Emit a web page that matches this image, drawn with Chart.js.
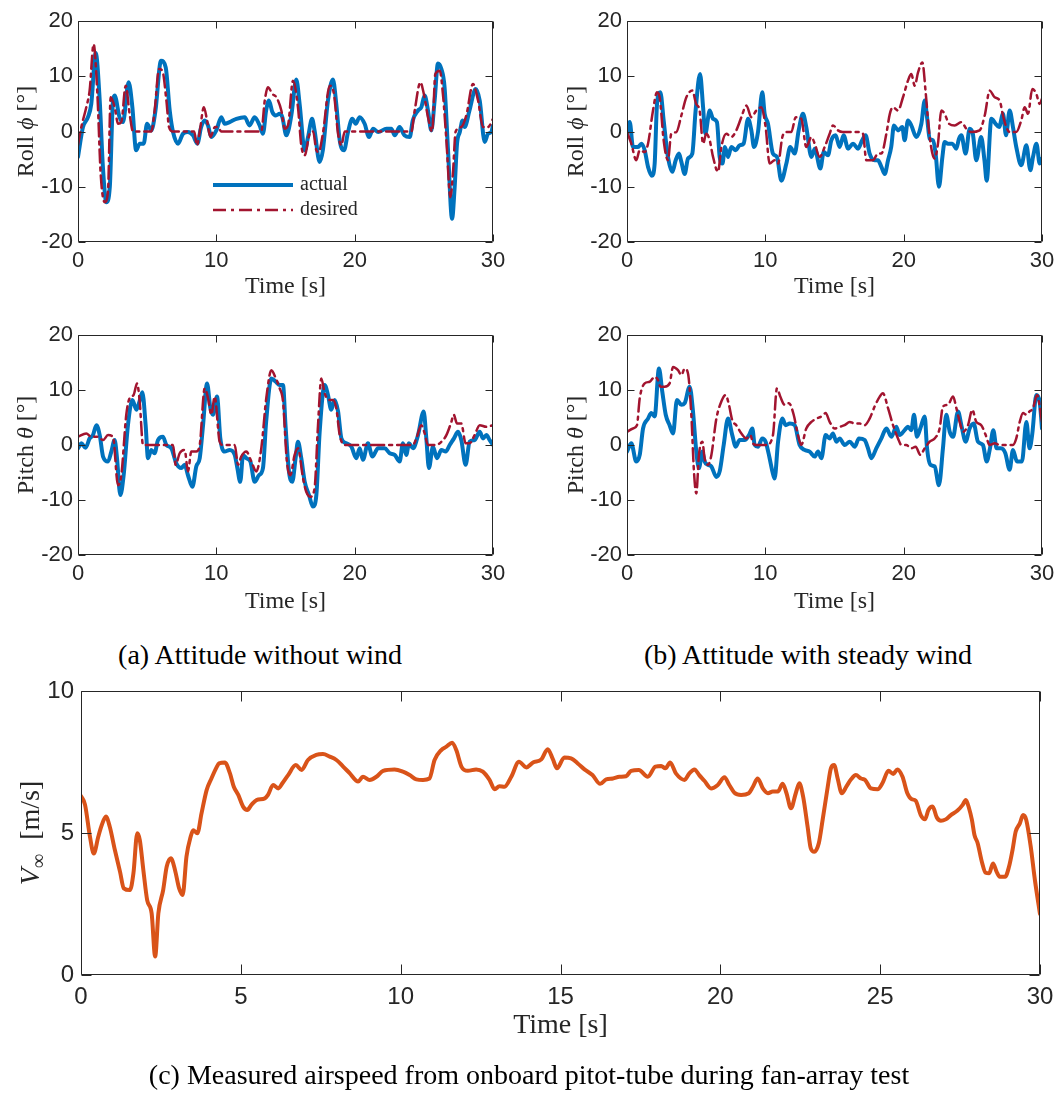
<!DOCTYPE html>
<html><head><meta charset="utf-8">
<script src="https://cdn.jsdelivr.net/npm/chart.js@4.4.1/dist/chart.umd.min.js"></script>
<style>
html,body{margin:0;padding:0;background:#fff;}
body{width:1054px;height:1097px;position:relative;overflow:hidden;}
.pane{position:absolute;}
.pane canvas{display:block;}
.cap{position:absolute;font-family:'Liberation Serif','Times New Roman',serif;font-size:28px;color:#000;white-space:nowrap;transform:translate(-50%,-50%);line-height:1;}
</style></head><body>
<div class="pane" style="left:0;top:0"><canvas id="cA" width="520" height="310"></canvas></div>
<div class="pane" style="left:527px;top:0"><canvas id="cB" width="527" height="310"></canvas></div>
<div class="pane" style="left:0;top:315px"><canvas id="cC" width="520" height="310"></canvas></div>
<div class="pane" style="left:527px;top:315px"><canvas id="cD" width="527" height="310"></canvas></div>
<div class="pane" style="left:0;top:680px"><canvas id="cE" width="1054" height="380"></canvas></div>
<div class="cap" style="left:260px;top:655px">(a) Attitude without wind</div>
<div class="cap" style="left:808px;top:655px">(b) Attitude with steady wind</div>
<div class="cap" style="left:529px;top:1075px">(c) Measured airspeed from onboard pitot-tube during fan-array test</div>
<script>
// ---------------- DATA ([time s, value]) ----------------
const rollCalmActual = [[0,-4.6],[0.36,0.8],[0.72,2.6],[0.96,5],[1.28,14.2],[1.57,5.6],[1.8,-6.4],[2.05,-12.8],[2.3,-10],[2.53,5.6],[2.65,6.5],[3.0,2.6],[3.25,1.7],[3.66,8.9],[3.93,4.4],[4.2,-3.4],[4.46,-2.2],[4.75,-2.2],[4.99,1.4],[5.3,0.2],[5.6,3.8],[6.0,12.8],[6.34,11.6],[6.63,3.8],[6.87,-0.1],[7.23,-2.2],[7.59,-0.4],[7.95,-0.1],[8.31,-0.7],[8.63,-2.2],[8.9,0.8],[9.16,2],[9.4,1.1],[9.64,-1],[10.0,0.2],[10.36,2.6],[10.6,1.4],[10.96,1.7],[11.45,2.3],[12.05,2.6],[12.4,1.1],[12.77,2.6],[13.13,1.1],[13.37,-0.4],[13.6,3.8],[13.8,5.6],[14.05,3.5],[14.3,2.9],[14.58,3.2],[14.77,2.6],[15.06,-0.7],[15.42,2.9],[15.78,9.4],[16.02,5],[16.39,-3.4],[16.63,-1],[16.92,2.3],[17.1,0.2],[17.47,-5.5],[17.7,-3.4],[18.07,5.6],[18.43,9.4],[18.67,5],[18.92,-1.6],[19.23,-3.4],[19.52,-0.1],[19.83,2.3],[20.07,1.4],[20.36,2.6],[20.72,1.4],[21.04,-1],[21.33,0.5],[21.7,-0.1],[22.3,0.5],[22.65,0.5],[22.9,-0.7],[23.25,0.8],[23.6,-0.7],[23.98,-1],[24.2,2],[24.58,3.8],[24.82,4.4],[25.06,6.5],[25.3,3.8],[25.54,0.2],[25.78,5.6],[26.02,12.3],[26.27,11.3],[26.5,8],[26.75,-3.4],[27.04,-15.8],[27.23,-10],[27.4,-2.2],[27.6,-0.1],[27.8,2],[27.95,0.8],[28.3,3.8],[28.75,7.7],[29.04,5.6],[29.4,-1.9],[29.64,-0.4],[29.88,-0.1],[30,1.1]];
const rollCalmDesired = [[0,-2.5],[0.24,0.8],[0.6,4.4],[0.84,7.4],[1.13,15.8],[1.4,6.8],[1.64,-7.7],[1.93,-12.8],[2.17,-10.7],[2.36,6.2],[2.65,4.4],[2.9,1.4],[3.13,1.7],[3.45,8.3],[3.73,3.2],[3.98,0],[5.3,0],[5.54,3.8],[5.86,11.3],[6.1,11],[6.39,5.6],[6.58,0.8],[6.87,0],[8.4,0],[8.6,-2.5],[8.8,0],[9.1,4.4],[9.33,2],[9.57,-1],[9.9,0.8],[10.1,0.8],[10.36,0],[13.25,0],[13.5,5.6],[13.73,8],[14.05,6.8],[14.34,6.2],[14.7,3.8],[14.94,0.5],[15.18,1.1],[15.54,9.2],[15.9,4.4],[16.14,-2.5],[16.39,-4.3],[16.75,-0.4],[17.0,0],[17.23,-3.4],[17.4,-3.7],[17.7,-0.4],[18.2,8.3],[18.5,6.8],[18.8,-0.4],[19.04,-2.5],[19.28,0],[24.1,0],[24.34,3.8],[24.75,8.9],[25.0,6.8],[25.3,2.6],[25.6,0],[25.83,10.4],[26.15,11],[26.4,6.2],[26.63,-1.6],[26.92,-11.9],[27.1,-7.7],[27.3,0],[27.7,0.8],[28.07,2.9],[28.55,8.6],[28.92,5.6],[29.28,0.8],[29.64,0.8],[30,2.3]];
const rollWindActual = [[0,-0.4],[0.2,1.7],[0.43,-2.8],[0.8,-2.8],[1.04,-2.2],[1.28,-3.4],[1.52,-6.4],[1.8,-8],[2.0,-5.8],[2.17,5],[2.41,7.1],[2.65,2],[2.96,-4.6],[3.28,-7.3],[3.52,-5.2],[3.76,-4],[3.93,-5.5],[4.17,-7.7],[4.41,-4.9],[4.72,-4],[4.96,3.8],[5.28,10.4],[5.5,4.4],[5.66,-0.4],[5.98,3.8],[6.22,2.3],[6.5,1.7],[6.7,-4.6],[6.9,-5.8],[7.08,-2.8],[7.3,-4.6],[7.54,-2.8],[7.86,-3.4],[8.14,-2.5],[8.43,-2.2],[8.75,2.3],[8.99,0.2],[9.18,-2.8],[9.47,-0.1],[9.78,7.1],[9.95,3.2],[10.19,1.4],[10.55,-4],[10.84,-4.6],[11.16,-8.9],[11.52,-5.8],[11.8,-2.8],[12.12,-4],[12.41,0.2],[12.72,3.2],[12.96,0.8],[13.33,-4.6],[13.57,-3.1],[13.98,-6.7],[14.22,-3.7],[14.53,-4.3],[14.77,-1.6],[15.08,-0.7],[15.37,-2.8],[15.66,-0.7],[15.98,-3.1],[16.34,-2.2],[16.7,-3.1],[17.0,-1.6],[17.25,-0.7],[17.54,-4],[17.9,-5.2],[18.14,-5.2],[18.39,-6.4],[18.63,-7.7],[18.87,-5.2],[19.1,-2.8],[19.3,1.1],[19.59,0.2],[19.9,0.8],[20.07,-1.6],[20.31,2],[20.55,1.1],[20.92,-1],[21.28,1.4],[21.52,5.6],[21.69,2.6],[21.88,-1.3],[22.12,-1.6],[22.31,-4],[22.55,-10],[22.8,-4.6],[22.96,-1.9],[23.2,-2.2],[23.52,-2.2],[23.8,-3.1],[24.0,-1.3],[24.17,-0.7],[24.48,-4],[24.77,0.5],[25.0,-0.4],[25.25,-5.2],[25.6,-1],[25.84,-5.2],[26.0,-8.9],[26.34,2.3],[26.65,1.4],[26.9,0.8],[27.18,3.2],[27.4,-0.7],[27.66,3.8],[27.9,0.8],[28.14,-2.8],[28.5,-6.1],[28.87,-2.5],[29.16,-7],[29.35,-4.6],[29.6,-2.2],[29.83,-5.8],[30,-4.9]];
const rollWindDesired = [[0,-0.1],[0.31,-2.2],[0.67,-5.2],[0.92,-3.4],[1.28,-3.7],[1.52,-2.2],[1.88,3.8],[2.17,7.1],[2.36,6.2],[2.65,-1.6],[2.96,-5.2],[3.2,-0.4],[3.57,-0.1],[3.93,2.9],[4.29,6.2],[4.72,7.4],[5.0,5],[5.25,3.8],[5.5,-2.2],[5.73,-0.4],[5.98,-1.6],[6.22,-4.6],[6.58,-7.3],[6.82,-2.8],[7.18,-0.4],[7.54,-1],[7.9,0.2],[8.27,2.6],[8.63,4.7],[8.99,2.6],[9.35,3.8],[9.71,4.4],[10.02,0.8],[10.31,-5.8],[10.67,-5.2],[10.92,-5.8],[11.23,-1],[11.52,-0.1],[11.88,-0.1],[12.2,2.6],[12.6,2.3],[12.96,-2.8],[13.33,-1],[13.57,-2.2],[13.93,-4.6],[14.29,-2.8],[14.65,-0.4],[14.89,1.1],[15.25,0.2],[15.6,-0.1],[16.8,-0.1],[17.06,-0.4],[17.3,-5.2],[17.78,-5.2],[18.14,-4],[18.39,-4],[18.75,-0.4],[19.0,3.2],[19.23,4.4],[19.59,3.8],[19.95,6.2],[20.31,9.2],[20.55,10.4],[20.8,8.3],[21.04,10.7],[21.35,12.5],[21.6,6.8],[21.88,-1],[22.24,-4.9],[22.48,-2.2],[22.72,3.8],[22.96,3.2],[23.28,1.4],[23.69,1.1],[24.17,1.7],[24.53,0.5],[24.89,-0.1],[25.49,0.2],[25.86,2.9],[26.22,7.4],[26.58,6.2],[26.94,5.6],[27.18,2.9],[27.42,0.8],[27.66,-0.1],[28.14,-0.1],[28.5,2],[28.75,4.4],[28.99,3.2],[29.3,7.7],[29.59,6.8],[29.83,5],[30,5.9]];
const pitchCalmActual = [[0,-0.6],[0.24,0.3],[0.55,-0.5],[0.84,1.2],[1.08,1.8],[1.33,3.6],[1.57,1.8],[1.81,-2.1],[2.17,-3],[2.41,-1.2],[2.65,0.9],[2.82,-2.4],[3.06,-9.1],[3.3,-5.5],[3.61,3.6],[3.93,8.2],[4.22,6.4],[4.41,7.6],[4.65,9.6],[4.89,3.6],[5.06,-2.4],[5.3,-0.9],[5.54,-1.5],[5.78,0.9],[6.14,1.5],[6.39,0],[6.75,-0.6],[7.1,-3.3],[7.47,-4.2],[7.71,-3.6],[7.95,-5.5],[8.27,-7.6],[8.55,-3.9],[8.8,-2.4],[9.04,3.6],[9.33,11.2],[9.57,6.7],[9.76,5.5],[10.05,8.8],[10.29,1.2],[10.6,-1.2],[10.96,-0.9],[11.33,-1.8],[11.52,-4.2],[11.73,-6.7],[11.93,-1.8],[12.17,-2.4],[12.46,-3],[12.77,-6.7],[13.08,-5.5],[13.37,-4.2],[13.6,4.2],[13.98,12.1],[14.3,11.5],[14.58,10.9],[14.82,10.9],[15.0,3.6],[15.25,-4.8],[15.49,-6.7],[15.73,-2.4],[15.9,0.6],[16.14,-2.4],[16.39,-6.7],[16.7,-9.1],[16.99,-11.2],[17.23,-9.1],[17.47,2.4],[17.83,10.9],[18.07,9.1],[18.31,6.4],[18.55,8.2],[18.8,6.1],[19.04,1.2],[19.4,0.3],[19.76,-0.3],[20.12,-2.4],[20.36,-0.6],[20.6,-2.7],[20.96,0.3],[21.28,-2.1],[21.69,-0.6],[22.17,-0.6],[22.53,-1.5],[22.89,-1.8],[23.25,-3],[23.49,0.3],[23.73,-1.8],[23.93,0.3],[24.22,-0.6],[24.58,1.8],[24.99,6.1],[25.18,1.2],[25.37,-4.2],[25.66,-0.3],[25.95,-2.4],[26.27,-0.9],[26.58,-1.2],[26.87,0],[27.18,1.2],[27.47,2.4],[27.71,0.9],[28.02,-3.6],[28.31,0.6],[28.67,0.9],[29.04,2.4],[29.28,1.2],[29.52,1.8],[29.76,0.9],[30,0]];
const pitchCalmDesired = [[0,1.5],[0.6,2.1],[0.96,1.5],[1.45,1.5],[1.81,0.9],[2.17,1.8],[2.53,1.5],[2.89,-7.3],[3.13,-5.5],[3.49,5.5],[3.73,8.5],[4.02,9.1],[4.27,11.2],[4.46,7.9],[4.7,0],[6.87,0],[7.06,-3.6],[7.35,-1.5],[7.71,-0.9],[7.95,-4.8],[8.19,-1.2],[8.55,-1.2],[8.8,0],[9.16,10.3],[9.4,8.5],[9.64,5.5],[9.88,8.8],[10.24,0.6],[10.48,0],[11.33,0],[11.57,-3.6],[11.8,-2.1],[12.17,-1.2],[12.53,-3],[12.89,-4.8],[13.25,-0.6],[13.61,8.5],[13.98,13.6],[14.3,12.1],[14.58,10.3],[14.82,7.9],[15.1,-3],[15.35,-5.5],[15.66,-1.8],[15.9,-0.6],[16.27,-6.1],[16.5,-8.5],[16.8,-9.4],[17.1,-7.9],[17.35,3.6],[17.59,12.1],[17.83,9.4],[18.14,8.2],[18.43,8.2],[18.67,6.7],[18.92,1.8],[19.28,0],[24.2,0],[24.46,1.2],[24.82,3.6],[25.06,2.1],[25.3,0],[25.9,0],[26.27,0.6],[26.63,1.8],[26.99,4.2],[27.16,5.5],[27.4,3.9],[27.71,3.9],[28.02,0.3],[28.31,0.3],[28.67,1.8],[29.04,3.6],[29.52,3.3],[30,3.6]];
const pitchWindActual = [[0,-1.2],[0.31,0.3],[0.67,-3],[0.92,-1.8],[1.16,3],[1.52,4.8],[1.76,5.8],[2.0,5.2],[2.31,13.9],[2.55,9.7],[2.8,5.5],[3.08,3.6],[3.33,2.1],[3.61,8.2],[3.93,7.3],[4.17,7.6],[4.53,10.6],[4.77,6.1],[5.01,-1.2],[5.2,-4.2],[5.45,-1.2],[5.61,-3],[5.86,-3.6],[6.1,-3.9],[6.46,-5.8],[6.7,-4.8],[6.99,0],[7.3,4.8],[7.61,1.8],[7.86,-0.3],[8.14,0.9],[8.51,0.9],[8.82,1.8],[9.06,3],[9.23,0],[9.47,-0.3],[9.78,1.2],[10.02,0.6],[10.31,-2.4],[10.51,-4.8],[10.67,-6.1],[10.92,0.6],[11.23,4.8],[11.47,3.6],[11.76,3.9],[12.12,3.6],[12.48,0],[12.84,-0.9],[13.2,-1.2],[13.57,-2.1],[13.81,-1.2],[14.05,-2.4],[14.36,1.8],[14.65,1.2],[14.89,2.1],[15.13,0.6],[15.37,1.2],[15.73,0],[16.1,0.6],[16.46,-0.3],[16.77,1.2],[17.18,0.9],[17.42,-0.6],[17.66,-2.4],[18.02,-0.6],[18.39,1.2],[18.75,3],[19.11,1.5],[19.47,3.3],[19.71,1.8],[20.07,2.7],[20.31,3.3],[20.55,2.7],[20.75,5.5],[20.96,1.5],[21.2,3],[21.52,5.2],[21.69,-0.6],[21.93,-3.6],[22.24,-3.9],[22.55,-7.3],[22.84,-0.6],[23.08,5.5],[23.33,2.4],[23.57,1.5],[23.93,6.1],[24.17,3.6],[24.48,0.6],[24.77,3],[25.06,3.9],[25.37,0.6],[25.73,0],[26.0,-3],[26.24,-0.6],[26.48,2.7],[26.72,-0.6],[27.04,-0.6],[27.35,-1.5],[27.66,-4.5],[27.9,-0.9],[28.19,-3],[28.55,-3],[28.87,4.2],[29.1,-0.6],[29.3,2.1],[29.59,9.1],[29.83,7.9],[30,3]];
const pitchWindDesired = [[0,2.4],[0.43,3],[0.72,3.6],[0.92,8.5],[1.28,11.2],[1.64,11.5],[2.0,12.4],[2.24,11.8],[2.41,10.6],[2.72,10.6],[3.08,11.2],[3.33,14.2],[3.69,13.6],[3.93,12.7],[4.17,13.9],[4.41,13],[4.65,5.5],[4.84,-4.8],[5.01,-8.8],[5.2,-1.8],[5.45,0.6],[5.61,-2.4],[5.86,-3.6],[6.1,-1.8],[6.46,4.8],[6.82,7.9],[7.13,9.1],[7.37,7.3],[7.61,4.5],[7.9,3.6],[8.27,2.1],[8.63,1.2],[8.92,1.8],[9.11,0.3],[9.35,0],[10.07,0],[10.55,1.8],[10.84,10.3],[11.08,8.8],[11.4,7.3],[11.71,7.6],[12.05,5.5],[12.36,1.8],[12.6,0],[12.96,3],[13.33,4.2],[13.69,4.8],[14.05,5.2],[14.36,5.8],[14.65,4.2],[15.01,3],[15.37,3.3],[15.73,3.6],[16.1,4.2],[16.46,3.9],[16.82,3.9],[17.18,3.6],[17.54,4.8],[17.9,7],[18.27,8.8],[18.5,9.4],[18.87,6.7],[19.23,3.6],[19.59,1.2],[19.83,0],[20.19,0],[20.55,-0.6],[20.87,-0.3],[21.2,-1.8],[21.52,-0.6],[21.88,0.6],[22.24,1.2],[22.6,3],[22.84,7],[23.2,7.3],[23.57,8.8],[23.81,6.7],[24.05,4.2],[24.29,2.4],[24.65,3.6],[24.96,6.4],[25.25,4.2],[25.61,3.6],[25.93,1.8],[26.22,0],[26.58,0.3],[26.94,0],[27.9,0],[28.14,1.2],[28.39,4.2],[28.63,5.8],[28.87,5.5],[29.1,6.1],[29.35,6.7],[29.64,9.1],[30,4.2]];
const airspeed = [[0,6.3],[0.125,6.0],[0.28,4.87],[0.4,4.28],[0.54,4.87],[0.65,5.28],[0.78,5.58],[0.9,5.22],[1.06,4.4],[1.22,3.64],[1.34,3.05],[1.53,2.99],[1.64,3.58],[1.76,4.99],[1.84,4.75],[1.95,3.7],[2.07,2.64],[2.21,2.17],[2.32,0.65],[2.42,2.17],[2.57,2.99],[2.68,3.81],[2.81,4.11],[2.94,3.7],[3.07,3.05],[3.18,2.82],[3.3,4.17],[3.43,4.87],[3.51,5.1],[3.64,4.99],[3.77,5.69],[3.93,6.51],[4.08,6.92],[4.24,7.31],[4.32,7.45],[4.5,7.48],[4.66,7.1],[4.78,6.63],[4.92,6.34],[5.07,5.93],[5.2,5.81],[5.33,5.99],[5.49,6.16],[5.75,6.22],[5.85,6.34],[6.01,6.69],[6.17,6.57],[6.3,6.75],[6.48,7.04],[6.72,7.39],[6.9,7.22],[7.1,7.57],[7.36,7.75],[7.57,7.78],[7.78,7.69],[7.99,7.57],[8.2,7.34],[8.41,7.1],[8.67,6.81],[8.82,6.98],[9.03,6.87],[9.24,6.98],[9.45,7.19],[9.81,7.24],[10.07,7.16],[10.28,7.04],[10.49,6.89],[10.7,6.87],[10.9,6.92],[11.06,7.57],[11.27,7.92],[11.43,8.04],[11.61,8.18],[11.74,7.92],[11.9,7.34],[12.1,7.19],[12.36,7.24],[12.57,7.16],[12.78,6.87],[12.94,6.54],[13.09,6.65],[13.25,6.63],[13.46,6.98],[13.7,7.51],[13.93,7.31],[14.14,7.48],[14.4,7.59],[14.6,7.95],[14.76,7.6],[14.89,7.28],[15.12,7.66],[15.33,7.63],[15.54,7.45],[15.75,7.24],[16.0,7.04],[16.24,6.73],[16.43,6.89],[16.64,6.92],[16.84,6.98],[17.05,7.0],[17.21,7.19],[17.45,7.22],[17.73,6.98],[17.97,7.34],[18.15,7.36],[18.28,7.28],[18.43,7.48],[18.61,7.1],[18.88,6.87],[19.03,7.1],[19.19,7.24],[19.34,7.04],[19.5,6.84],[19.71,6.57],[19.92,6.69],[20.13,6.96],[20.28,6.69],[20.44,6.42],[20.65,6.34],[20.89,6.4],[21.02,6.63],[21.17,6.92],[21.33,6.57],[21.49,6.4],[21.64,6.46],[21.8,6.46],[21.95,6.73],[22.07,6.4],[22.21,5.87],[22.36,6.4],[22.47,6.75],[22.59,6.28],[22.73,5.22],[22.83,4.46],[22.94,4.34],[23.08,4.64],[23.2,5.46],[23.36,6.63],[23.46,7.28],[23.56,7.39],[23.67,6.92],[23.8,6.4],[23.95,6.65],[24.09,6.89],[24.24,7.04],[24.4,6.92],[24.53,6.87],[24.71,6.57],[24.92,6.54],[25.07,6.75],[25.26,7.19],[25.41,7.08],[25.54,7.24],[25.7,6.98],[25.85,6.4],[25.99,6.19],[26.11,6.14],[26.27,5.63],[26.4,5.48],[26.51,5.81],[26.64,5.93],[26.77,5.55],[26.9,5.43],[27.05,5.48],[27.21,5.63],[27.42,5.79],[27.58,5.99],[27.68,6.16],[27.78,5.87],[27.87,5.46],[27.95,4.93],[28.05,4.64],[28.18,3.99],[28.3,3.6],[28.41,3.58],[28.53,3.93],[28.64,3.64],[28.74,3.46],[28.91,3.46],[29.03,3.81],[29.14,4.4],[29.24,5.05],[29.37,5.34],[29.47,5.63],[29.57,5.46],[29.71,4.52],[29.84,3.35],[30,2.15]];

const attitudeYTicks = [-20, -10, 0, 10, 20];
const attitudeXTicks = [0, 10, 20, 30];
const airspeedYTicks = [0, 5, 10];
const airspeedXTicks = [0, 5, 10, 15, 20, 25, 30];
const seriesLabels = ['actual', 'desired'];

// ---------------- STYLE ----------------
const BLUE = '#0072BD', RED = '#A2142F', ORANGE = '#D95319', AXIS = '#262626';
const SANS = "'Liberation Sans', Arial, Helvetica, sans-serif";
const SERIF = "'Liberation Serif', 'Times New Roman', 'DejaVu Serif', serif";

const pts = arr => arr.map(p => ({x: p[0], y: p[1]}));

function actualDs(data) {
  return {label: seriesLabels[0], data: pts(data), borderColor: BLUE, borderWidth: 4, order: 1};
}
function desiredDs(data) {
  return {label: seriesLabels[1], data: pts(data), borderColor: RED, borderWidth: 2.5, borderDash: [13, 5, 3, 5], order: 0};
}

function makePanel(id, cfg) {
  const canvas = document.getElementById(id);
  const W = canvas.width, H = canvas.height, A = cfg.area;
  const panelPlugin = {
    id: 'panel_' + id,
    afterDatasetsDraw(chart) {
      const ctx = chart.ctx, a = chart.chartArea, xs = chart.scales.x, ys = chart.scales.y;
      ctx.save();
      ctx.strokeStyle = AXIS; ctx.lineWidth = 1;
      const L = Math.round(a.left) + 0.5, R = Math.round(a.right) - 0.5, T = Math.round(a.top) + 0.5, B = Math.round(a.bottom) - 0.5;
      ctx.beginPath();
      ctx.rect(L, T, R - L, B - T);
      const tl = cfg.tickLen;
      xs.ticks.forEach(t => {
        const px = Math.round(xs.getPixelForValue(t.value)) + 0.5;
        ctx.moveTo(px, B); ctx.lineTo(px, B - tl);
        ctx.moveTo(px, T); ctx.lineTo(px, T + tl);
      });
      ys.ticks.forEach(t => {
        const py = Math.round(ys.getPixelForValue(t.value)) + 0.5;
        ctx.moveTo(L, py); ctx.lineTo(L + tl, py);
        ctx.moveTo(R, py); ctx.lineTo(R - tl, py);
      });
      ctx.stroke();
      ctx.restore();
    },
    afterDraw(chart) {
      const ctx = chart.ctx, a = chart.chartArea;
      ctx.save();
      ctx.fillStyle = AXIS;
      ctx.font = cfg.xTitle.size + 'px ' + SERIF;
      ctx.textAlign = 'center'; ctx.textBaseline = 'middle';
      ctx.fillText(cfg.xTitle.text, (a.left + a.right) / 2, cfg.xTitle.y);
      const yt = cfg.yTitle;
      const fonts = yt.runs.map(r => (r.it ? 'italic ' : '') + Math.round(yt.size * (r.scale || 1)) + 'px ' + SERIF);
      const widths = yt.runs.map((r, i) => { ctx.font = fonts[i]; return ctx.measureText(r.t).width; });
      const total = widths.reduce((s, w) => s + w, 0);
      ctx.save();
      ctx.translate(yt.x, (a.top + a.bottom) / 2);
      ctx.rotate(-Math.PI / 2);
      ctx.textAlign = 'left'; ctx.textBaseline = 'alphabetic';
      let cx = -total / 2;
      yt.runs.forEach((r, i) => { ctx.font = fonts[i]; ctx.fillText(r.t, cx, yt.size * 0.33 + (r.dy || 0)); cx += widths[i]; });
      ctx.restore();
      if (cfg.legend) {
        const lg = cfg.legend;
        chart.data.datasets.forEach((ds, i) => {
          const y = lg.ys[i];
          ctx.save();
          ctx.strokeStyle = ds.borderColor; ctx.lineWidth = ds.borderWidth;
          ctx.setLineDash(ds.borderDash || []);
          ctx.beginPath(); ctx.moveTo(lg.x1, y); ctx.lineTo(lg.x2, y); ctx.stroke();
          ctx.restore();
          ctx.fillStyle = AXIS;
          ctx.font = lg.size + 'px ' + SERIF;
          ctx.textAlign = 'left'; ctx.textBaseline = 'middle';
          ctx.fillText(ds.label, lg.tx, y);
        });
      }
      ctx.restore();
    }
  };
  return new Chart(canvas, {
    type: 'line',
    data: {datasets: cfg.datasets},
    options: {
      responsive: false, animation: false, devicePixelRatio: 1,
      layout: {padding: {left: 0, top: A.t, right: W - A.r, bottom: 0}},
      plugins: {legend: {display: false}, tooltip: {enabled: false}, title: {display: false}},
      elements: {point: {radius: 0}, line: {tension: 0.3, cubicInterpolationMode: 'monotone', borderCapStyle: 'round', borderJoinStyle: 'round'}},
      scales: {
        x: {
          type: 'linear', min: cfg.xTicks[0], max: cfg.xTicks[cfg.xTicks.length - 1],
          afterBuildTicks: s => { s.ticks = cfg.xTicks.map(v => ({value: v})); },
          ticks: {autoSkip: false, maxRotation: 0, color: AXIS, font: {family: SANS, size: cfg.tickSize}, padding: cfg.xPad},
          grid: {display: false, drawTicks: false}, border: {display: false},
          afterFit: s => { s.height = H - A.b; s.paddingLeft = 0; s.paddingRight = 0; s.paddingTop = 0; s.paddingBottom = 0; }
        },
        y: {
          type: 'linear', min: cfg.yTicks[0], max: cfg.yTicks[cfg.yTicks.length - 1],
          afterBuildTicks: s => { s.ticks = cfg.yTicks.map(v => ({value: v})); },
          ticks: {autoSkip: false, color: AXIS, font: {family: SANS, size: cfg.tickSize}, padding: cfg.yPad},
          grid: {display: false, drawTicks: false}, border: {display: false},
          afterFit: s => { s.width = A.l; s.paddingLeft = 0; s.paddingRight = 0; s.paddingTop = 0; s.paddingBottom = 0; }
        }
      }
    },
    plugins: [panelPlugin]
  });
}

const rollRuns = [{t: 'Roll '}, {t: 'ϕ', it: true}, {t: ' [°]'}];
const pitchRuns = [{t: 'Pitch '}, {t: 'θ', it: true}, {t: ' [°]'}];
const smallBase = {xTicks: attitudeXTicks, yTicks: attitudeYTicks, tickSize: 22, xPad: 6, yPad: 5, tickLen: 7};

makePanel('cA', Object.assign({}, smallBase, {
  area: {l: 78, t: 21, r: 493, b: 242},
  datasets: [actualDs(rollCalmActual), desiredDs(rollCalmDesired)],
  xTitle: {text: 'Time [s]', size: 24, y: 287},
  yTitle: {runs: rollRuns, size: 24, x: 25},
  legend: {x1: 213, x2: 293, tx: 300, ys: [185, 210], size: 20}
}));
makePanel('cB', Object.assign({}, smallBase, {
  area: {l: 100, t: 21, r: 515, b: 242},
  datasets: [actualDs(rollWindActual), desiredDs(rollWindDesired)],
  xTitle: {text: 'Time [s]', size: 24, y: 287},
  yTitle: {runs: rollRuns, size: 24, x: 48}
}));
makePanel('cC', Object.assign({}, smallBase, {
  area: {l: 78, t: 20, r: 493, b: 240},
  datasets: [actualDs(pitchCalmActual), desiredDs(pitchCalmDesired)],
  xTitle: {text: 'Time [s]', size: 24, y: 287},
  yTitle: {runs: pitchRuns, size: 24, x: 25}
}));
makePanel('cD', Object.assign({}, smallBase, {
  area: {l: 100, t: 20, r: 515, b: 240},
  datasets: [actualDs(pitchWindActual), desiredDs(pitchWindDesired)],
  xTitle: {text: 'Time [s]', size: 24, y: 287},
  yTitle: {runs: pitchRuns, size: 24, x: 48}
}));
makePanel('cE', {
  xTicks: airspeedXTicks, yTicks: airspeedYTicks, tickSize: 24, xPad: 8, yPad: 7, tickLen: 10,
  area: {l: 81, t: 11, r: 1040, b: 295},
  datasets: [{label: 'airspeed', data: pts(airspeed), borderColor: ORANGE, borderWidth: 4}],
  xTitle: {text: 'Time [s]', size: 28, y: 346},
  yTitle: {runs: [{t: 'V', it: true}, {t: '∞', scale: 0.72, dy: 6}, {t: '  [m/s]'}], size: 28, x: 30}
});
</script>
</body></html>
